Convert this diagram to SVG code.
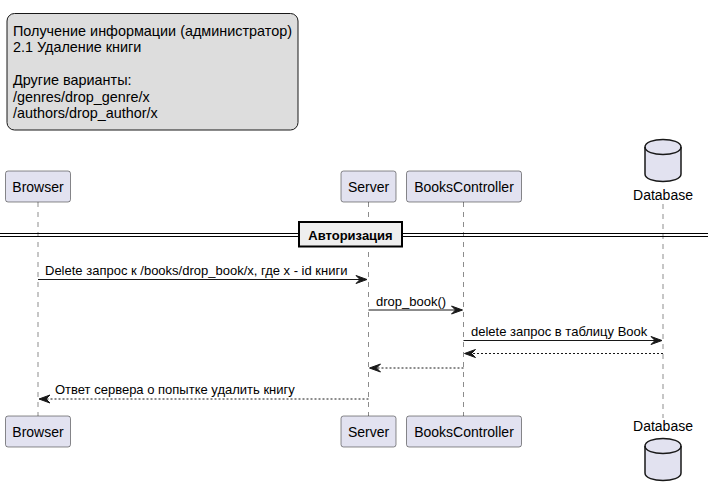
<svg xmlns="http://www.w3.org/2000/svg" width="708" height="495" viewBox="0 0 708 495">
  <defs>
    <style>
      text { font-family: "Liberation Sans", Arial, sans-serif; fill: #000000; }
      .note { fill: #DDDDDD; stroke: #181818; stroke-width: 1; }
      .note-text { font-size: 14.4px; }
      .lifeline { stroke: #181818; stroke-width: 0.5; stroke-dasharray: 5,5; fill: none; }
      .participant { fill: #E2E2F0; stroke: #181818; stroke-width: 0.5; }
      .p-label { font-size: 14px; text-anchor: middle; }
      .db { fill: #E2E2F0; stroke: #181818; stroke-width: 1.5; }
      .db-curve { fill: none; stroke: #181818; stroke-width: 1.5; }
      .msg { stroke: #181818; stroke-width: 1; fill: none; }
      .ret { stroke: #181818; stroke-width: 1; fill: none; stroke-dasharray: 2,2; }
      .head { fill: #181818; stroke: #181818; stroke-width: 1; }
      .msg-label { font-size: 13px; }
      .div-line { stroke: #000000; stroke-width: 1; }
      .div-box { fill: #EEEEEE; stroke: #000000; stroke-width: 2; }
      .div-label { font-size: 13px; font-weight: bold; text-anchor: middle; }
    </style>
  </defs>

  <!-- header note -->
  <g id="note">
    <rect class="note" x="7" y="13.5" width="291" height="116.5" rx="7.5" ry="7.5"/>
    <text class="note-text" x="13" y="35.5">Получение информации (администратор)</text>
    <text class="note-text" x="13" y="51.5">2.1 Удаление книги</text>
    <text class="note-text" x="13" y="85">Другие варианты:</text>
    <text class="note-text" x="13" y="101.5">/genres/drop_genre/x</text>
    <text class="note-text" x="13" y="118">/authors/drop_author/x</text>
  </g>

  <!-- lifelines -->
  <g id="lifelines">
    <line class="lifeline" x1="38" y1="202" x2="38" y2="416"/>
    <line class="lifeline" x1="368.5" y1="202" x2="368.5" y2="416"/>
    <line class="lifeline" x1="463.5" y1="202" x2="463.5" y2="416"/>
    <line class="lifeline" x1="663" y1="204" x2="663" y2="418"/>
  </g>

  <!-- participants -->
  <g id="browser">
    <rect class="participant" x="5.5" y="171" width="65" height="31" rx="2.5" ry="2.5"/>
    <text class="p-label" x="38" y="191.5">Browser</text>
    <rect class="participant" x="5.5" y="416" width="65" height="31" rx="2.5" ry="2.5"/>
    <text class="p-label" x="38" y="436.5">Browser</text>
  </g>
  <g id="server">
    <rect class="participant" x="341" y="171" width="55" height="31" rx="2.5" ry="2.5"/>
    <text class="p-label" x="368.5" y="191.5">Server</text>
    <rect class="participant" x="341" y="416" width="55" height="31" rx="2.5" ry="2.5"/>
    <text class="p-label" x="368.5" y="436.5">Server</text>
  </g>
  <g id="bookscontroller">
    <rect class="participant" x="406.5" y="171" width="115" height="31" rx="2.5" ry="2.5"/>
    <text class="p-label" x="464" y="191.5">BooksController</text>
    <rect class="participant" x="406.5" y="416" width="115" height="31" rx="2.5" ry="2.5"/>
    <text class="p-label" x="464" y="436.5">BooksController</text>
  </g>
  <g id="database">
    <path class="db" d="M645,147 C645,137 681,137 681,147 L681,174 C681,184 645,184 645,174 Z"/>
    <path class="db-curve" d="M645,147 C645,157 681,157 681,147"/>
    <text class="p-label" x="663" y="199.5">Database</text>
    <text class="p-label" x="663" y="431">Database</text>
    <path class="db" d="M645,446 C645,436 681,436 681,446 L681,473 C681,483 645,483 645,473 Z"/>
    <path class="db-curve" d="M645,446 C645,456 681,456 681,446"/>
  </g>

  <!-- section divider -->
  <g id="divider">
    <line class="div-line" x1="0" y1="233.5" x2="708" y2="233.5"/>
    <line class="div-line" x1="0" y1="236.5" x2="708" y2="236.5"/>
    <rect class="div-box" x="299" y="222" width="103" height="24.5"/>
    <text class="div-label" x="350.5" y="239.5">Авторизация</text>
  </g>

  <!-- messages -->
  <g id="connectors">
    <line class="msg" x1="38" y1="279.5" x2="366" y2="279.5"/>
    <polygon class="head" points="356,275.5 367,279.5 356,283.5 360,279.5"/>
    <text class="msg-label" x="45" y="275">Delete запрос к /books/drop_book/x, где x - id книги</text>

    <line class="msg" x1="368.5" y1="310" x2="461.5" y2="310"/>
    <polygon class="head" points="451.5,306 462.5,310 451.5,314 455.5,310"/>
    <text class="msg-label" x="376" y="305.5">drop_book()</text>

    <line class="msg" x1="463.5" y1="340.5" x2="661" y2="340.5"/>
    <polygon class="head" points="651,336.5 662,340.5 651,344.5 655,340.5"/>
    <text class="msg-label" x="471" y="336">delete запрос в таблицу Book</text>

    <line class="ret" x1="663" y1="353.5" x2="465.5" y2="353.5"/>
    <polygon class="head" points="475.5,349.5 464.5,353.5 475.5,357.5 471.5,353.5"/>

    <line class="ret" x1="463.5" y1="368" x2="370.5" y2="368"/>
    <polygon class="head" points="380.5,364 369.5,368 380.5,372 376.5,368"/>

    <line class="ret" x1="368.5" y1="399" x2="40" y2="399"/>
    <polygon class="head" points="50,395 39,399 50,403 46,399"/>
    <text class="msg-label" x="55" y="394">Ответ сервера о попытке удалить книгу</text>
  </g>
</svg>
